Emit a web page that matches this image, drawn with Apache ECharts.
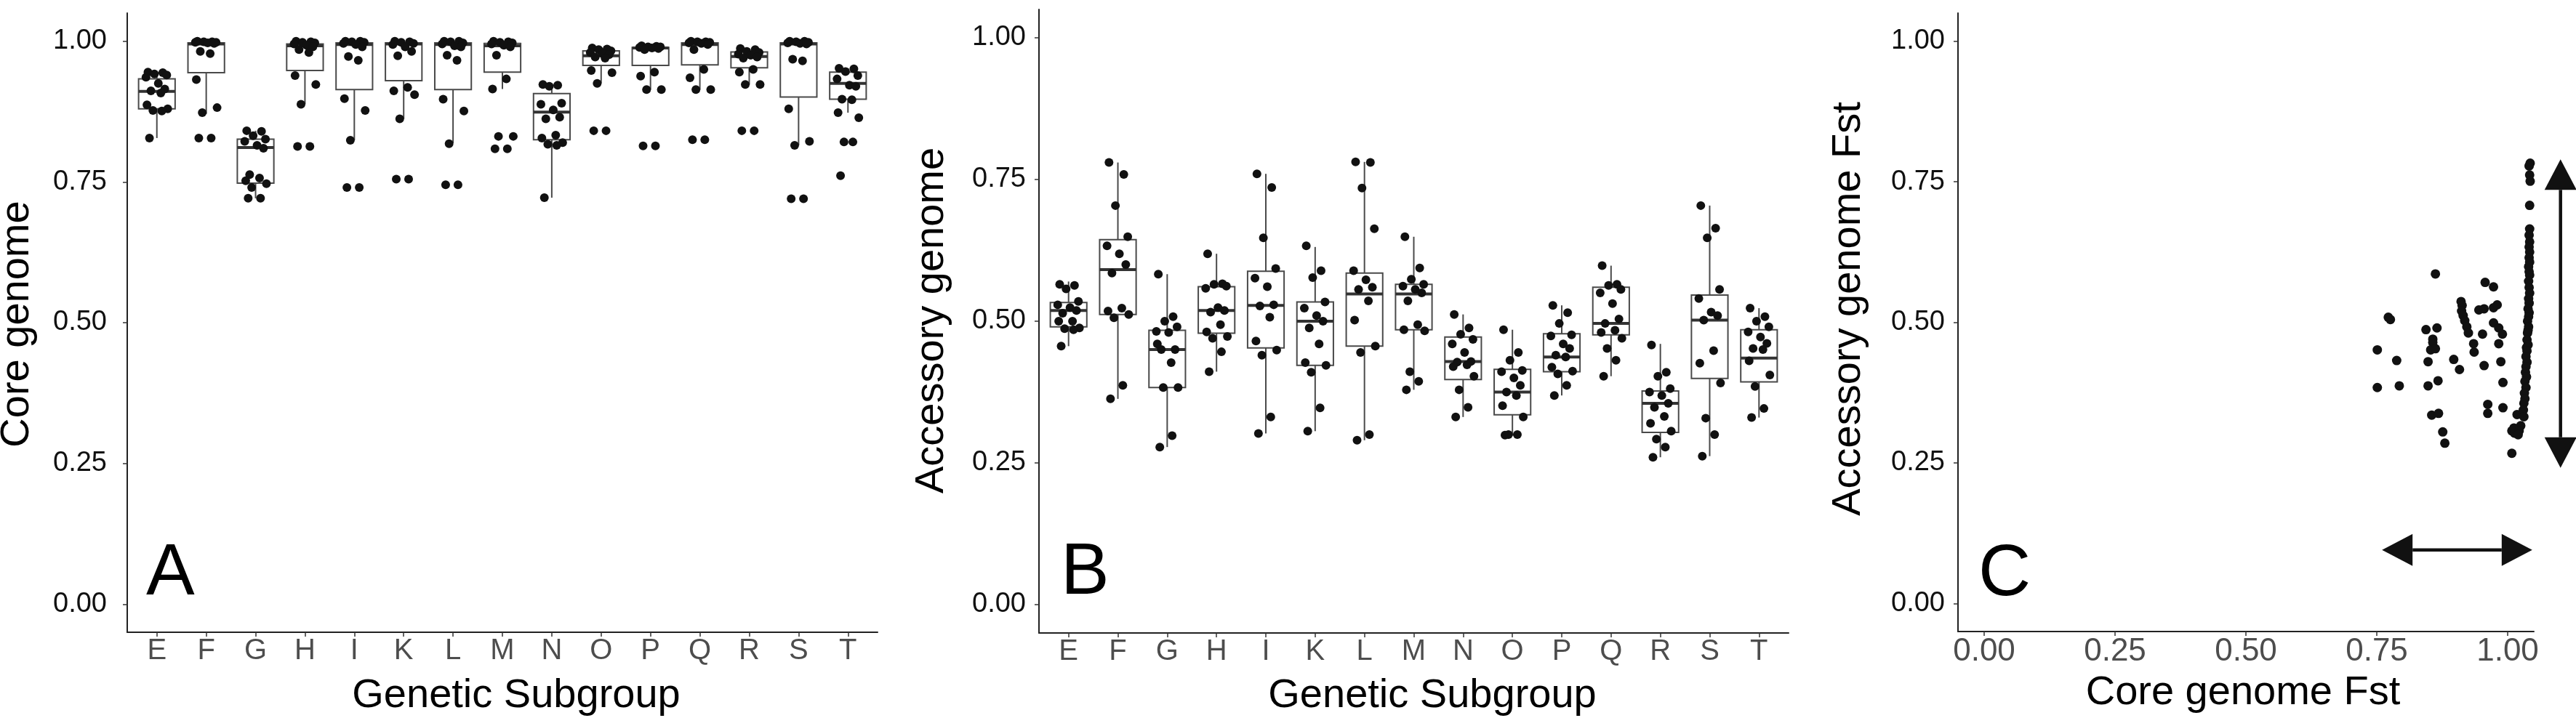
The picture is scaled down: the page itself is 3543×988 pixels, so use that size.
<!DOCTYPE html>
<html><head><meta charset="utf-8">
<script src="https://cdn.jsdelivr.net/npm/echarts@6/dist/echarts.min.js"></script>
<style>html,body{margin:0;padding:0;background:#fff}#chart{width:3543px;height:988px}</style>
</head><body><div id="chart"></div>
<script>
const categories = ['E','F','G','H','I','K','L','M','N','O','P','Q','R','S','T'];
const yTicks = [0, 0.25, 0.5, 0.75, 1];
const xFstTicks = [0, 0.25, 0.5, 0.75, 1];

// [lower whisker, Q1, median, Q3, upper whisker]
const coreBoxes = [
  [0.828,0.880,0.911,0.933,0.945],
  [0.871,0.944,0.995,0.997,1.000],
  [0.721,0.748,0.811,0.826,0.841],
  [0.888,0.948,0.992,0.995,1.000],
  [0.824,0.914,0.994,0.997,1.000],
  [0.862,0.930,0.995,0.997,1.000],
  [0.819,0.914,0.994,0.997,1.000],
  [0.915,0.945,0.992,0.996,1.000],
  [0.722,0.825,0.874,0.907,0.923],
  [0.925,0.957,0.974,0.983,0.988],
  [0.914,0.957,0.988,0.989,0.992],
  [0.914,0.958,0.994,0.997,1.000],
  [0.923,0.953,0.973,0.981,0.987],
  [0.815,0.901,0.995,0.997,1.000],
  [0.873,0.897,0.925,0.945,0.952]
];
const corePoints = [
  [0.945,0.944,0.942,0.940,0.936,0.925,0.915,0.912,0.908,0.887,0.880,0.877,0.876,0.828],
  [1.000,0.999,0.999,0.998,0.998,0.997,0.996,0.982,0.978,0.932,0.882,0.873,0.828,0.828],
  [0.841,0.840,0.832,0.826,0.822,0.815,0.810,0.763,0.757,0.752,0.747,0.740,0.721,0.721],
  [1.000,0.999,0.998,0.997,0.995,0.993,0.990,0.985,0.980,0.939,0.923,0.888,0.813,0.813],
  [1.000,1.000,0.999,0.998,0.996,0.994,0.990,0.973,0.966,0.898,0.877,0.824,0.740,0.740],
  [1.000,0.999,0.998,0.996,0.994,0.990,0.982,0.974,0.918,0.912,0.905,0.862,0.755,0.755],
  [1.000,1.000,0.999,0.997,0.995,0.992,0.990,0.975,0.966,0.897,0.876,0.818,0.745,0.745],
  [1.000,0.999,0.998,0.997,0.995,0.993,0.990,0.975,0.933,0.915,0.831,0.831,0.809,0.809],
  [0.923,0.922,0.920,0.890,0.888,0.878,0.865,0.862,0.833,0.828,0.820,0.817,0.815,0.722],
  [0.988,0.986,0.985,0.983,0.980,0.978,0.976,0.972,0.970,0.948,0.944,0.925,0.841,0.841],
  [0.992,0.991,0.990,0.990,0.989,0.988,0.987,0.985,0.945,0.938,0.914,0.914,0.814,0.814],
  [1.000,0.999,0.999,0.998,0.997,0.996,0.994,0.985,0.950,0.935,0.914,0.914,0.825,0.825],
  [0.987,0.985,0.982,0.980,0.977,0.975,0.972,0.970,0.950,0.945,0.923,0.923,0.841,0.841],
  [1.000,1.000,0.999,0.998,0.997,0.996,0.995,0.968,0.965,0.880,0.822,0.815,0.720,0.720],
  [0.952,0.951,0.946,0.939,0.933,0.922,0.920,0.897,0.896,0.873,0.864,0.821,0.821,0.761]
];
const accBoxes = [
  [0.456,0.490,0.519,0.533,0.570],
  [0.363,0.512,0.591,0.644,0.780],
  [0.278,0.383,0.450,0.484,0.583],
  [0.411,0.479,0.519,0.561,0.619],
  [0.302,0.453,0.528,0.588,0.760],
  [0.306,0.422,0.500,0.534,0.631],
  [0.290,0.456,0.548,0.585,0.781],
  [0.379,0.485,0.548,0.565,0.649],
  [0.331,0.397,0.429,0.472,0.512],
  [0.298,0.335,0.375,0.415,0.485],
  [0.369,0.411,0.437,0.478,0.528],
  [0.403,0.476,0.496,0.560,0.598],
  [0.260,0.304,0.355,0.377,0.460],
  [0.262,0.399,0.502,0.546,0.704],
  [0.330,0.393,0.435,0.485,0.523]
];
const accPoints = [
  [0.565,0.563,0.557,0.535,0.529,0.524,0.519,0.514,0.500,0.500,0.488,0.487,0.485,0.456],
  [0.780,0.759,0.704,0.649,0.633,0.619,0.600,0.585,0.523,0.518,0.512,0.506,0.387,0.363],
  [0.583,0.508,0.500,0.490,0.482,0.480,0.450,0.450,0.427,0.460,0.383,0.383,0.298,0.278],
  [0.619,0.566,0.565,0.562,0.558,0.524,0.519,0.516,0.494,0.481,0.473,0.470,0.446,0.411],
  [0.760,0.736,0.647,0.593,0.576,0.561,0.529,0.527,0.507,0.465,0.449,0.440,0.331,0.302],
  [0.633,0.589,0.577,0.534,0.523,0.510,0.500,0.488,0.460,0.427,0.422,0.410,0.347,0.306],
  [0.781,0.780,0.735,0.663,0.589,0.573,0.560,0.556,0.536,0.502,0.456,0.445,0.300,0.290],
  [0.649,0.594,0.574,0.565,0.562,0.556,0.550,0.536,0.494,0.485,0.483,0.411,0.394,0.379],
  [0.512,0.488,0.477,0.468,0.460,0.445,0.429,0.428,0.423,0.420,0.403,0.379,0.348,0.331],
  [0.485,0.445,0.431,0.413,0.411,0.400,0.387,0.375,0.369,0.351,0.331,0.300,0.300,0.299],
  [0.528,0.515,0.496,0.476,0.474,0.460,0.452,0.440,0.437,0.419,0.412,0.407,0.387,0.369],
  [0.598,0.565,0.563,0.556,0.550,0.531,0.504,0.496,0.484,0.480,0.470,0.452,0.431,0.403],
  [0.458,0.410,0.403,0.381,0.375,0.369,0.355,0.348,0.332,0.320,0.306,0.292,0.278,0.260],
  [0.704,0.664,0.647,0.556,0.540,0.516,0.510,0.502,0.448,0.426,0.391,0.329,0.300,0.262],
  [0.523,0.508,0.500,0.490,0.481,0.472,0.461,0.452,0.450,0.430,0.405,0.385,0.346,0.330]
];
// panel C: core genome Fst (x) vs accessory genome Fst (y)
const coreFst = [
  0.751,0.751,0.772,0.776,0.788,0.793,0.844,0.865,0.857,0.857,0.853,0.862,0.848,0.848,0.867,0.855,0.876,0.880,0.862,0.868,
  0.897,0.908,0.911,0.913,0.912,0.915,0.918,0.922,0.925,0.935,0.936,0.945,0.955,0.973,0.980,0.957,0.973,0.952,0.973,0.983,
  0.990,0.983,0.955,0.987,0.991,0.962,0.962,0.991,1.008,1.013,1.008,1.018,1.012,
  1.043,1.041,1.042,1.043,1.042,1.042,1.041,1.042,1.041,1.042,1.041,1.042,1.040,1.041,1.042,1.040,1.041,1.042,1.040,1.041,
  1.039,1.041,1.040,1.038,1.040,1.039,1.038,1.037,1.039,1.036,1.037,1.035,1.037,1.035,1.034,1.036,1.033,1.035,1.032,1.033,
  1.031,1.030,1.031,1.025,1.022,1.020
];
const accFst = [
  0.451,0.384,0.509,0.505,0.432,0.387,0.487,0.490,0.470,0.464,0.451,0.453,0.430,0.387,0.396,0.335,0.305,0.285,0.586,0.338,
  0.434,0.416,0.537,0.530,0.520,0.512,0.503,0.492,0.481,0.462,0.447,0.522,0.524,0.526,0.531,0.571,0.563,0.479,0.499,0.490,
  0.479,0.462,0.423,0.430,0.393,0.354,0.338,0.348,0.307,0.303,0.267,0.336,0.312,
  0.783,0.778,0.762,0.751,0.708,0.666,0.655,0.643,0.634,0.625,0.615,0.607,0.599,0.590,0.584,0.573,0.562,0.552,0.542,0.534,
  0.524,0.517,0.510,0.502,0.492,0.486,0.481,0.469,0.460,0.455,0.449,0.439,0.429,0.421,0.411,0.403,0.395,0.384,0.374,0.364,
  0.356,0.344,0.332,0.316,0.307,0.300
];
// horizontal jitter pattern (category units) for the dots
const jitterPattern = [-0.18,0.12,-0.05,0.2,-0.22,0.03,0.16,-0.12,0.08,-0.2,0.22,-0.08,0.1,-0.15];
// annotation arrows in panel C (data coordinates)
const arrows = [
  {from:[0.760,0.095], to:[1.047,0.095]},
  {from:[1.101,0.790], to:[1.101,0.241]}
];

const FONT = "'Liberation Sans', Arial, sans-serif";
const chart = echarts.init(document.getElementById('chart'), null, {renderer:'canvas'});
const catIdx = categories.map((c,i)=>i);

function yAxisCfg(gridIndex, margin){
  return {type:'value', gridIndex, min:-0.05, max:1.05,
    axisLine:{show:true, onZero:false, lineStyle:{color:'#222', width:2}},
    axisTick:{show:true, length:6, customValues:yTicks, lineStyle:{color:'#333', width:1.5}},
    axisLabel:{customValues:yTicks, formatter:v=>Number(v).toFixed(2), fontSize:38, color:'#111', margin, fontFamily:FONT},
    splitLine:{show:false}};
}
function xCatAxisCfg(gridIndex){
  return {type:'value', gridIndex, min:-0.6, max:14.6,
    axisLine:{show:true, onZero:false, lineStyle:{color:'#222', width:2}},
    axisTick:{show:true, length:6, customValues:catIdx, lineStyle:{color:'#333', width:1.5}},
    axisLabel:{customValues:catIdx, formatter:v=>categories[Math.round(v)], fontSize:40, color:'#4d4d4d', margin:6, fontFamily:FONT},
    splitLine:{show:false}};
}
function renderBox(params, api){
  const x = api.value(0);
  const lo = api.coord([x, api.value(1)]);
  const q1 = api.coord([x, api.value(2)]);
  const md = api.coord([x, api.value(3)]);
  const q3 = api.coord([x, api.value(4)]);
  const hi = api.coord([x, api.value(5)]);
  const hw = api.size([0.74, 0])[0] / 2;
  const st = {stroke:'#4a4a4a', lineWidth:2};
  return {type:'group', children:[
    {type:'line', shape:{x1:lo[0], y1:lo[1], x2:q1[0], y2:q1[1]}, style:st},
    {type:'line', shape:{x1:q3[0], y1:q3[1], x2:hi[0], y2:hi[1]}, style:st},
    {type:'rect', shape:{x:md[0]-hw, y:q3[1], width:2*hw, height:q1[1]-q3[1]}, style:{fill:'#fff', stroke:'#4a4a4a', lineWidth:2}},
    {type:'line', shape:{x1:md[0]-hw, y1:md[1], x2:md[0]+hw, y2:md[1]}, style:{stroke:'#333', lineWidth:4}}
  ]};
}
function boxData(boxes){ return boxes.map((b,i)=>[i].concat(b)); }
function pointData(pts){
  const out = [];
  pts.forEach((arr,i)=>arr.forEach((v,j)=>out.push([i + jitterPattern[j % jitterPattern.length], v])));
  return out;
}

const option = {
  animation:false,
  backgroundColor:'#fff',
  grid:[
    {left:175, top:18, width:1032, height:852, outerBoundsMode:'none', containLabel:false},
    {left:1429, top:13, width:1031, height:858, outerBoundsMode:'none', containLabel:false},
    {left:2693, top:18, width:792, height:851, outerBoundsMode:'none', containLabel:false}
  ],
  xAxis:[
    xCatAxisCfg(0), xCatAxisCfg(1),
    {type:'value', gridIndex:2, min:-0.05, max:1.05,
      axisLine:{show:true, onZero:false, lineStyle:{color:'#222', width:2}},
      axisTick:{show:true, length:6, customValues:xFstTicks, lineStyle:{color:'#333', width:1.5}},
      axisLabel:{customValues:xFstTicks, formatter:v=>Number(v).toFixed(2), fontSize:44, color:'#4d4d4d', margin:6, fontFamily:FONT},
      splitLine:{show:false}}
  ],
  yAxis:[ yAxisCfg(0, 28), yAxisCfg(1, 18), yAxisCfg(2, 18) ],
  series:[
    {type:'custom', xAxisIndex:0, yAxisIndex:0, renderItem:renderBox, data:boxData(coreBoxes), z:2},
    {type:'scatter', xAxisIndex:0, yAxisIndex:0, data:pointData(corePoints), symbolSize:12, itemStyle:{color:'#111', opacity:1}, z:3},
    {type:'custom', xAxisIndex:1, yAxisIndex:1, renderItem:renderBox, data:boxData(accBoxes), z:2},
    {type:'scatter', xAxisIndex:1, yAxisIndex:1, data:pointData(accPoints), symbolSize:12, itemStyle:{color:'#111', opacity:1}, z:3},
    {type:'scatter', xAxisIndex:2, yAxisIndex:2, data:coreFst.map((x,i)=>[x, accFst[i]]), symbolSize:13, itemStyle:{color:'#111', opacity:1}, z:3}
  ]
};
chart.setOption(option);

function txt(text, x, y, size, opts){
  return Object.assign({type:'text', x, y, z:10, style:{text, fontSize:size, fontFamily:FONT, fill:'#000', align:'center', verticalAlign:'middle'}}, opts||{});
}
const graphics = [
  txt('Core genome', 24, 446, 56, {rotation:Math.PI/2}),
  txt('Accessory genome', 1282, 441, 56, {rotation:Math.PI/2}),
  txt('Accessory genome Fst', 2543, 425, 56, {rotation:Math.PI/2}),
  txt('Genetic Subgroup', 710, 958, 56),
  txt('Genetic Subgroup', 1970, 958, 56),
  txt('Core genome Fst', 3085, 954, 56)
];
const letterPos = [[201, 790],[1459, 789],[2721, 791]];
['A','B','C'].forEach((l,i)=>{
  const g = txt(l, letterPos[i][0], letterPos[i][1], 100);
  g.style.align = 'left';
  graphics.push(g);
});
function arrowGraphics(p1, p2, headLen, headW, lw){
  const dx = p2[0]-p1[0], dy = p2[1]-p1[1];
  const L = Math.hypot(dx, dy); const ux = dx/L, uy = dy/L; const nx = -uy, ny = ux;
  const b1 = [p1[0]+ux*headLen, p1[1]+uy*headLen];
  const b2 = [p2[0]-ux*headLen, p2[1]-uy*headLen];
  const h = headW/2;
  return [
    {type:'line', z:10, shape:{x1:b1[0], y1:b1[1], x2:b2[0], y2:b2[1]}, style:{stroke:'#111', lineWidth:lw}},
    {type:'polygon', z:10, shape:{points:[p1, [b1[0]+nx*h, b1[1]+ny*h], [b1[0]-nx*h, b1[1]-ny*h]]}, style:{fill:'#111'}},
    {type:'polygon', z:10, shape:{points:[p2, [b2[0]+nx*h, b2[1]+ny*h], [b2[0]-nx*h, b2[1]-ny*h]]}, style:{fill:'#111'}}
  ];
}
arrows.forEach(a=>{
  const p1 = chart.convertToPixel({gridIndex:2}, a.from);
  const p2 = chart.convertToPixel({gridIndex:2}, a.to);
  arrowGraphics(p1, p2, 42, 44, 4.5).forEach(g=>graphics.push(g));
});
chart.setOption({graphic:graphics});
</script></body></html>
